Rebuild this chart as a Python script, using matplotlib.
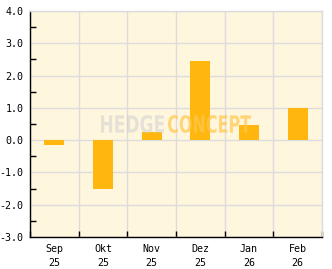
import numpy as np
import matplotlib
matplotlib.use("Agg")
import matplotlib.pyplot as plt
from matplotlib.ticker import MultipleLocator
from matplotlib.textpath import TextPath
from matplotlib.patches import PathPatch
from matplotlib.font_manager import FontProperties
from matplotlib.transforms import Affine2D

plt.rcParams["axes.unicode_minus"] = False

# monthly values
months = ["Sep\n25", "Okt\n25", "Nov\n25", "Dez\n25", "Jan\n26", "Feb\n26"]
values = [-0.15, -1.5, 0.25, 2.45, 0.47, 1.0]
yticks = [-3.0, -2.0, -1.0, 0.0, 1.0, 2.0, 3.0, 4.0]

W, H = 332, 269
bg = "#fff6de"
bar_col = "#ffb70f"
grid_col = "#dcdcdc"

fig = plt.figure(figsize=(W / 100, H / 100), dpi=100)
ax = fig.add_axes([30 / W, 32 / H, 292 / W, 226 / H])
ax.set_facecolor(bg)

x = np.arange(len(months))
ax.bar(x, values, width=0.41, color=bar_col, zorder=3)

ax.set_xlim(-0.5, len(months) - 0.5)
ax.set_ylim(-3, 4)

# y axis: integer grid, half-step minor ticks
ax.set_yticks(yticks)
ax.set_yticklabels([f"{v:.1f}" for v in yticks])
ax.yaxis.set_minor_locator(MultipleLocator(0.5))

# x axis: labels at centers, ticks/grid at boundaries
ax.set_xticks(x)
ax.set_xticklabels(months)
ax.set_xticks(np.arange(-0.5, len(months), 1), minor=True)

ax.tick_params(axis="x", which="major", length=0, pad=5)
ax.tick_params(axis="x", which="minor", direction="in", length=4, width=1, color="black")
ax.tick_params(axis="y", which="major", direction="in", length=0, pad=4.5)
ax.tick_params(axis="y", which="minor", direction="in", length=4, width=1, color="black")

for lab in ax.get_xticklabels() + ax.get_yticklabels():
    lab.set_fontfamily("DejaVu Sans Mono")
    lab.set_fontsize(7.2)
    lab.set_linespacing(1.55)

ax.grid(True, which="major", axis="y", color=grid_col, lw=1, zorder=1)
ax.grid(True, which="minor", axis="x", color=grid_col, lw=1, zorder=1)
ax.set_axisbelow(True)

ax.spines["left"].set_color("black")
ax.spines["bottom"].set_color("black")
ax.spines["top"].set_color(grid_col)
ax.spines["right"].set_color(grid_col)
for s in ax.spines.values():
    s.set_linewidth(1)


# watermark: squeezed bold lettering placed by pixel box
def stamp(word, x0, x1, y0, y1, color, alpha):
    tp = TextPath((0, 0), word, size=1,
                  prop=FontProperties(family="DejaVu Sans", weight="bold"))
    ext = tp.get_extents()
    tr = (Affine2D().translate(-ext.x0, -ext.y0)
          .scale((x1 - x0) / ext.width, (y1 - y0) / ext.height)
          .translate(x0, H - y1)
          .scale(1 / W, 1 / H) + fig.transFigure)
    fig.patches.append(PathPatch(tp, transform=tr, color=color, alpha=alpha,
                                 lw=0, zorder=5))


stamp("HEDGE", 101, 164, 115, 133, "#d0d0d0", 0.55)
stamp("CONCEPT", 168, 251, 115, 133, "#ffc850", 0.7)

fig.savefig("out.png", dpi=100, facecolor="white")
